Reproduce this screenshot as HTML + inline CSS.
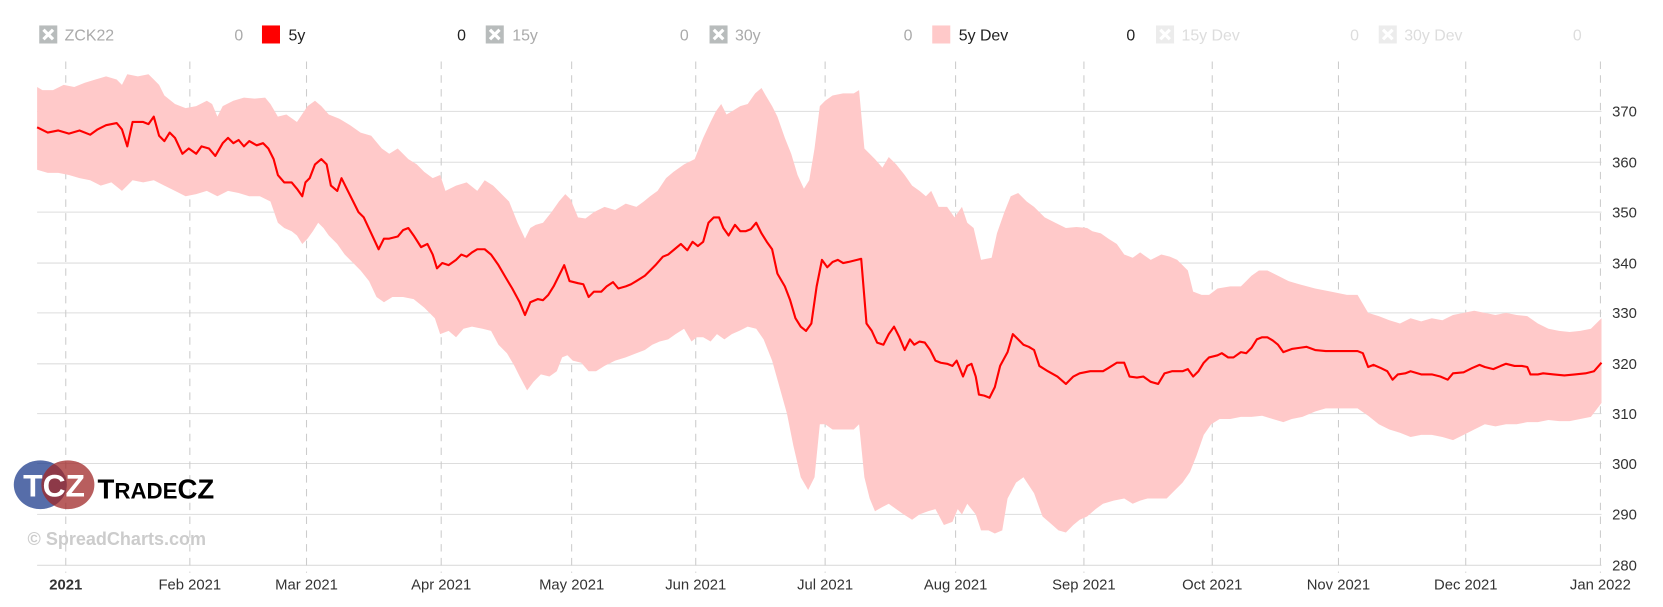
<!DOCTYPE html>
<html><head><meta charset="utf-8"><style>
body{margin:0;background:#fff;font-family:"Liberation Sans",sans-serif;overflow:hidden}
svg{display:block}
svg text{font-family:"Liberation Sans",sans-serif}
</style></head><body>
<svg id="s" width="1663" height="607" viewBox="0 0 1568 572.3" preserveAspectRatio="none" xmlns="http://www.w3.org/2000/svg">
<g id="grid"></g>
<polygon id="band" fill="#ffc9c9" stroke="none"/>
<polyline id="line" fill="none" stroke="#ff0000" stroke-width="2" stroke-linejoin="round"/>
<g font-size="15" fill="#aaa">
<rect x="37" y="24" width="17" height="17" fill="#b8bcbc"/><path d="M41 28l9 9M50 28l-9 9" stroke="#fff" stroke-width="3"/>
<text x="61" y="38">ZCK22</text><text x="221" y="38">0</text>
<rect x="247" y="24" width="17" height="17" fill="#f00"/><text x="272" y="38" fill="#222">5y</text><text x="431" y="38" fill="#222">0</text>
<rect x="458" y="24" width="17" height="17" fill="#b8bcbc"/><path d="M462 28l9 9M471 28l-9 9" stroke="#fff" stroke-width="3"/>
<text x="483" y="38">15y</text><text x="641" y="38">0</text>
<rect x="669" y="24" width="17" height="17" fill="#b8bcbc"/><path d="M673 28l9 9M682 28l-9 9" stroke="#fff" stroke-width="3"/>
<text x="693" y="38">30y</text><text x="852" y="38">0</text>
<rect x="879" y="24" width="17" height="17" fill="#ffc9c9"/><text x="904" y="38" fill="#222">5y Dev</text><text x="1062" y="38" fill="#222">0</text>
<rect x="1090" y="24" width="17" height="17" fill="#ececec"/><path d="M1094 28l9 9M1103 28l-9 9" stroke="#fff" stroke-width="3"/>
<text x="1114" y="38" fill="#ddd">15y Dev</text><text x="1273" y="38" fill="#ddd">0</text>
<rect x="1300" y="24" width="17" height="17" fill="#ececec"/><path d="M1304 28l9 9M1313 28l-9 9" stroke="#fff" stroke-width="3"/>
<text x="1324" y="38" fill="#ddd">30y Dev</text><text x="1483" y="38" fill="#ddd">0</text>
</g>
<g>
<ellipse cx="38" cy="457" rx="25" ry="23" fill="#1e3c8c" opacity="0.75"/>
<ellipse cx="64" cy="457" rx="25" ry="23" fill="#a02828" opacity="0.75"/>
<text x="51" y="468" font-family="Liberation Serif" font-size="30" font-weight="bold" fill="#fff" text-anchor="middle">TCZ</text>
<text x="92" y="470" font-family="Liberation Serif" font-size="26" font-weight="bold" fill="#000">T<tspan font-size="21">RADE</tspan>CZ</text>
<text x="26" y="514" font-size="17" font-weight="bold" fill="#ccc">© SpreadCharts.com</text>
</g>
</svg>
<script>
const g=document.getElementById('grid');let h='';
const ys=[[370,105],[360,153],[350,200],[340,248],[330,295],[320,343],[310,390],[300,437],[290,485],[280,533]];
for(const [v,y] of ys){h+=`<line x1="35" x2="1510" y1="${y}" y2="${y}" stroke="#ddd"/>`;h+=`<text x="1520" y="${y+5}" font-size="14" fill="#333">${v}</text>`;}
const xs=[[62,'2021'],[179,'Feb 2021'],[289,'Mar 2021'],[416,'Apr 2021'],[539,'May 2021'],[656,'Jun 2021'],[778,'Jul 2021'],[901,'Aug 2021'],[1022,'Sep 2021'],[1143,'Oct 2021'],[1262,'Nov 2021'],[1382,'Dec 2021'],[1509,'Jan 2022']];
for(const [x,t] of xs){h+=`<line x1="${x}" x2="${x}" y1="58" y2="540" stroke="#ccc" stroke-dasharray="7,6"/>`;h+=`<text x="${x}" y="556" font-size="14" fill="#333" text-anchor="middle" ${t=='2021'?'font-weight="bold"':''}>${t}</text>`;}
g.innerHTML=h;
const L=[35,120,45,125,55,123,65,126,75,123,85,127,92,122,100,118,110,116,115,122,120,138,125,115,135,115,140,117,145,110,150,128,155,133,160,125,165,130,172,145,178,140,185,145,190,138,197,140,203,147,210,135,215,130,220,135,225,132,230,138,235,133,242,137,248,135,253,140,258,150,262,165,268,172,275,172,280,178,285,185,288,172,292,168,297,155,303,150,308,155,312,175,318,180,322,168,328,180,333,190,338,200,343,205,350,220,357,235,362,225,367,225,375,223,380,217,385,215,390,222,397,233,403,230,408,240,412,253,417,248,423,250,430,245,435,240,440,242,445,238,450,235,457,235,463,240,470,250,477,262,483,272,490,285,495,297,500,285,507,282,512,283,517,278,522,270,527,260,532,250,537,265,545,267,550,268,555,280,560,275,567,275,572,270,578,266,583,272,590,270,595,268,600,265,608,260,613,255,618,250,625,242,630,240,636,235,642,230,648,236,653,228,658,232,663,228,668,210,673,205,678,205,682,215,687,222,693,212,698,218,703,218,708,216,713,210,718,220,723,228,728,235,733,258,740,270,745,283,750,300,755,308,760,312,765,305,770,270,775,245,780,252,785,247,790,245,795,248,800,247,808,245,812,244,817,305,822,312,827,323,833,325,838,315,843,308,848,318,853,330,858,320,862,325,867,322,872,323,877,330,882,340,887,342,893,343,898,345,902,340,908,355,912,345,916,343,920,355,923,372,928,373,933,375,938,365,943,345,950,332,955,315,960,320,965,325,970,327,975,330,980,345,988,350,997,355,1005,362,1012,355,1018,352,1028,350,1040,350,1045,347,1053,342,1060,342,1065,355,1072,356,1078,355,1085,360,1092,362,1098,352,1105,350,1115,350,1120,348,1125,355,1130,350,1135,342,1140,337,1148,335,1152,333,1158,337,1163,337,1170,332,1175,333,1180,328,1185,320,1190,318,1195,318,1200,321,1205,325,1210,332,1218,329,1225,328,1232,327,1240,330,1250,331,1260,331,1270,331,1280,331,1285,333,1290,346,1295,344,1302,347,1308,350,1313,358,1318,353,1325,352,1330,350,1340,353,1350,353,1358,355,1365,358,1370,352,1380,351,1388,347,1395,344,1400,346,1408,348,1415,345,1420,343,1428,345,1435,345,1440,346,1443,353,1450,353,1455,352,1465,353,1475,354,1485,353,1495,352,1503,350,1510,342];
const U=[35,82,40,85,50,85,60,80,70,82,80,78,90,75,100,72,110,75,115,80,120,70,130,72,140,70,145,75,150,80,155,90,165,98,175,102,185,100,195,95,200,98,205,110,210,100,220,95,230,92,240,93,250,92,255,98,262,110,270,108,280,115,290,100,297,95,303,100,310,108,320,112,330,118,340,125,350,128,360,140,367,145,375,140,385,150,393,155,400,162,408,168,415,165,420,180,430,175,440,172,450,180,457,170,465,175,475,185,480,190,488,210,495,225,500,215,505,212,512,210,520,200,527,190,533,183,538,188,545,205,552,206,560,200,570,195,580,198,590,192,600,195,607,190,613,185,620,180,628,168,635,162,645,155,655,150,663,130,670,115,675,105,680,98,685,108,690,105,698,100,705,98,712,88,718,83,722,90,728,100,733,110,740,130,746,145,752,165,758,178,763,170,768,140,773,100,778,95,785,90,795,88,805,88,810,85,815,140,825,150,832,158,838,148,845,155,853,165,860,175,867,180,873,185,878,180,885,195,893,195,900,205,907,195,912,210,918,215,925,245,935,243,940,220,947,200,953,185,960,182,968,190,975,195,985,205,995,210,1005,215,1015,214,1025,215,1030,218,1038,220,1045,225,1053,230,1060,240,1068,243,1075,238,1085,245,1095,240,1103,242,1110,245,1120,255,1125,275,1133,278,1140,278,1148,272,1160,270,1170,270,1175,265,1180,260,1187,255,1195,255,1205,260,1215,265,1225,268,1240,272,1255,275,1270,278,1280,278,1290,295,1300,298,1310,302,1320,305,1330,300,1340,303,1350,300,1360,302,1370,297,1380,295,1390,293,1400,295,1410,297,1420,295,1430,297,1440,298,1450,305,1460,310,1470,312,1480,313,1490,312,1500,310,1510,300];
const D=[35,160,45,163,55,163,65,165,75,168,85,170,95,175,105,172,115,180,125,170,135,172,145,170,155,175,165,180,175,185,185,183,195,180,205,185,215,180,225,182,235,185,245,185,255,190,262,210,268,215,275,218,280,222,285,230,290,225,295,218,300,210,305,215,310,222,318,230,325,240,333,248,340,255,348,265,355,280,362,285,370,280,380,280,390,282,400,290,410,300,415,315,423,312,430,318,437,310,445,308,455,310,463,312,470,325,478,333,485,345,490,355,497,368,503,360,510,353,518,355,525,350,530,337,535,335,540,340,548,342,555,350,562,350,570,345,580,340,590,337,600,333,608,330,615,325,622,322,630,320,637,315,645,310,652,322,657,318,663,318,670,322,676,315,683,320,690,315,697,312,705,308,713,310,720,320,728,340,735,365,742,390,748,420,755,450,762,462,768,450,773,400,778,400,785,405,795,405,805,405,810,400,815,450,820,470,825,482,832,478,838,475,845,480,852,485,860,490,867,485,875,482,882,480,890,495,898,492,903,480,907,485,912,475,920,485,925,500,932,500,938,503,945,500,950,470,958,455,965,450,975,465,983,487,990,493,998,500,1005,502,1012,495,1018,490,1025,487,1033,480,1040,475,1050,472,1060,470,1068,475,1075,472,1082,470,1090,470,1100,470,1108,462,1115,455,1122,445,1128,430,1135,410,1142,400,1150,395,1160,395,1170,393,1180,393,1190,392,1200,395,1210,398,1218,395,1228,393,1240,388,1250,385,1260,385,1270,385,1280,385,1290,392,1300,400,1310,405,1320,408,1330,412,1340,410,1350,410,1360,412,1370,415,1380,410,1390,405,1400,400,1410,402,1420,400,1430,400,1440,398,1450,398,1460,396,1470,397,1480,397,1490,395,1500,393,1510,380];
const pts=a=>{let r=[];for(let i=0;i<a.length;i+=2)r.push(a[i]+','+a[i+1]);return r;};
document.getElementById('line').setAttribute('points',pts(L).join(' '));
document.getElementById('band').setAttribute('points',pts(U).concat(pts(D).reverse()).join(' '));
</script>
</body></html>
